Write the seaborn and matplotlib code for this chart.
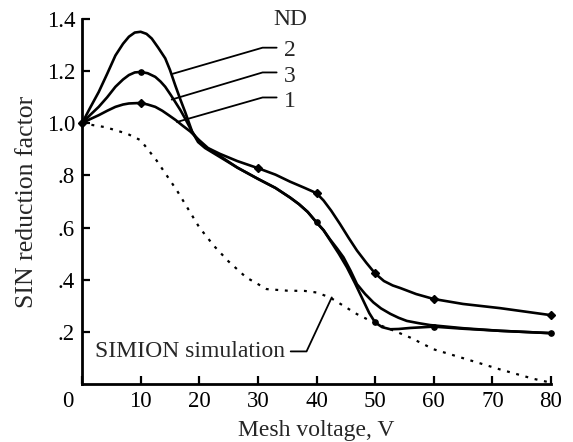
import matplotlib
matplotlib.use("Agg")
import matplotlib.pyplot as plt
import matplotlib.transforms as mtransforms
import seaborn as sns

# ---- data ----
nd1_x = [0, 1.4, 2.85, 4.3, 5.7, 7, 8, 10, 11.2, 12.5, 13.7, 14.8, 16, 17.1, 18.5, 20, 21.5, 23.5, 26.5,
         30, 33, 35.5, 38, 40, 41.2, 42.5, 44, 45.5, 46.9, 48.5, 50, 51.5, 53, 54.3, 57, 60, 65, 71.3, 80]
nd1_y = [1.0, 1.016, 1.031, 1.048, 1.063, 1.072, 1.076, 1.078, 1.072, 1.063, 1.048, 1.031, 1.012, 0.992, 0.968, 0.935, 0.905, 0.883, 0.855,
         0.828, 0.803, 0.776, 0.752, 0.732, 0.704, 0.665, 0.614, 0.56, 0.512, 0.465, 0.424, 0.395, 0.378, 0.368, 0.345, 0.326, 0.307, 0.291, 0.264]
nd1_mx = [0, 10, 30, 40, 50, 60, 80]
nd1_my = [1.0, 1.078, 0.828, 0.732, 0.424, 0.326, 0.264]

nd2_x = [0, 1.4, 2.85, 4.3, 5.7, 7, 8, 9, 10, 11, 11.9, 13, 14.2, 15, 15.9, 16.8, 17.6, 18.8, 19.8, 21, 23.5, 26.5,
         30, 33, 35.5, 37, 38.5, 40, 41.2, 42.3, 43.5, 44.6, 45.8, 46.9, 48.3, 49.7, 51, 52.6, 54, 55.4, 57.5, 59.4, 65, 71.3, 80]
nd2_y = [1.0, 1.06, 1.12, 1.19, 1.26, 1.305, 1.332, 1.348, 1.351, 1.343, 1.325, 1.29, 1.249, 1.205, 1.146, 1.09, 1.043, 0.967, 0.928, 0.905, 0.871, 0.83,
         0.787, 0.752, 0.715, 0.69, 0.66, 0.62, 0.59, 0.555, 0.52, 0.486, 0.435, 0.383, 0.345, 0.313, 0.29, 0.269, 0.254, 0.242, 0.233, 0.226, 0.214, 0.204, 0.195]

nd3_x = [0, 1.4, 2.85, 4.3, 5.7, 7, 8, 9, 10, 11.2, 12.5, 13.4, 14.2, 15.1, 15.9, 16.8, 17.6, 18.8, 19.8, 21, 23.5, 26.5,
         30, 33, 35.5, 37, 38.5, 40, 41.2, 42.3, 43.8, 45.2, 46.6, 48, 49, 50, 51.2, 52.6, 54, 56, 60, 65, 71.3, 80]
nd3_y = [1.0, 1.032, 1.063, 1.1, 1.14, 1.168, 1.185, 1.195, 1.197, 1.192, 1.178, 1.16, 1.14, 1.11, 1.082, 1.05, 1.018, 0.967, 0.935, 0.91, 0.875, 0.83,
         0.787, 0.752, 0.715, 0.69, 0.66, 0.62, 0.59, 0.552, 0.5, 0.447, 0.385, 0.319, 0.272, 0.236, 0.218, 0.21, 0.211, 0.215, 0.22, 0.212, 0.204, 0.195]
nd3_mx = [0, 10, 40, 50, 60, 80]
nd3_my = [1.0, 1.197, 0.62, 0.236, 0.22, 0.195]

sim_x = [0, 4, 7.7, 10, 12.7, 16.2, 20, 22.5, 25, 28, 31.5, 35, 38, 40, 42.3, 46.9, 50.3, 52.6, 56, 60, 65.6, 71.3, 77, 80]
sim_y = [1.0, 0.985, 0.96, 0.935, 0.858, 0.742, 0.601, 0.53, 0.47, 0.409, 0.364, 0.358, 0.357, 0.351, 0.332, 0.268, 0.23, 0.21, 0.178, 0.133, 0.095, 0.056, 0.02, 0.005]

curve_labels = ["2", "3", "1"]
label_y = [1.258, 1.159, 1.063]
lead_x = [33.2, 30.8, 15.5], [33.2, 30.8, 15.3], [33.2, 30.8, 16.2]
lead_y = [1.29, 1.29, 1.19], [1.195, 1.195, 1.091], [1.099, 1.099, 1.005]
sim_lead_x = [35.6, 38.3, 42.6]
sim_lead_y = [0.125, 0.125, 0.332]

xticks = [0, 10, 20, 30, 40, 50, 60, 70, 80]
xtick_labels = ["0", "10", "20", "30", "40", "50", "60", "70", "80"]
yticks = [0.2, 0.4, 0.6, 0.8, 1.0, 1.2, 1.4]
ytick_labels = [".2", ".4", ".6", ".8", "1.0", "1.2", "1.4"]

# ---- style ----
sns.set_style("ticks")
plt.rcParams["font.family"] = ["Liberation Serif", "DejaVu Serif"]

fig = plt.figure(figsize=(5.73, 4.42), dpi=100)
ax = fig.add_axes([82 / 573, 1 - 384 / 442, (551 - 82) / 573, (384 - 19) / 442])

lw = 1.9
for xs, ys in [(nd1_x, nd1_y), (nd2_x, nd2_y), (nd3_x, nd3_y)]:
    sns.lineplot(x=xs, y=ys, ax=ax, color="black", lw=lw, sort=False,
                 estimator=None, legend=False)
sns.lineplot(x=sim_x, y=sim_y, ax=ax, color="black", lw=1.6, sort=False,
             estimator=None, legend=False, linestyle=(0, (1.3, 3.0)))

ax.plot(nd1_mx, nd1_my, linestyle="none", marker="D", ms=4, color="black", clip_on=False)
ax.plot(nd3_mx, nd3_my, linestyle="none", marker="o", ms=3.8, color="black", clip_on=False)

for lx, ly in zip(lead_x, lead_y):
    ax.plot(lx, ly, color="black", lw=1.3, clip_on=False)
ax.plot(sim_lead_x, sim_lead_y, color="black", lw=1.3)

fs = 17
for lab, yy in zip(curve_labels, label_y):
    ax.text(35.5, yy, lab, ha="center", va="baseline", fontsize=fs, clip_on=False)
ax.text(35.5, 1.377, "ND", ha="center", va="baseline", fontsize=fs, clip_on=False)
ax.text(34.6, 0.102, "SIMION simulation", ha="right", va="baseline", fontsize=fs)

ax.set_xlim(0, 80)
ax.set_ylim(0, 1.4)
ax.set_xticks(xticks)
ax.set_xticklabels(xtick_labels)
ax.set_yticks(yticks)
ax.set_yticklabels(ytick_labels)
ax.tick_params(direction="in", length=5.5, width=1.6, labelsize=16.5, pad=5, colors="black")
lab0 = ax.get_xticklabels()[0]
lab0.set_transform(lab0.get_transform() + mtransforms.ScaledTranslation(-0.14, 0, fig.dpi_scale_trans))

for s in ["top", "right"]:
    ax.spines[s].set_visible(False)
for s in ["left", "bottom"]:
    ax.spines[s].set_linewidth(2.0)
    ax.spines[s].set_color("black")

ax.set_xlabel("Mesh voltage, V", fontsize=17, labelpad=6)
ax.set_ylabel("SIN reduction factor", fontsize=18.5, labelpad=6)

fig.savefig("out.png", dpi=100)
